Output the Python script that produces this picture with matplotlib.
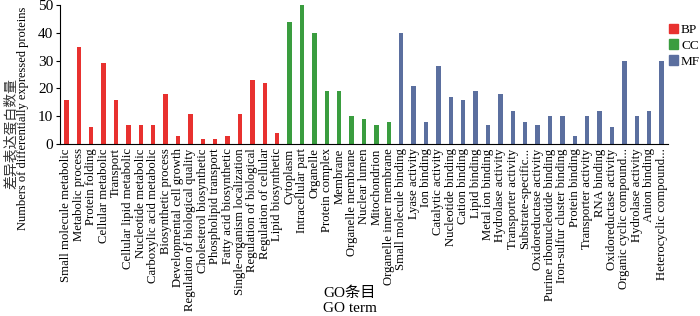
import matplotlib
matplotlib.use("Agg")
import matplotlib.pyplot as plt
from matplotlib.patches import Patch

bp_terms = [
    "Small molecule metabolic", "Metabolic process", "Protein folding",
    "Cellular metabolic", "Transport", "Cellular lipid metabolic",
    "Nucleotide metabolic", "Carboxylic acid metabolic", "Biosynthetic process",
    "Developmental cell growth", "Regulation of biological quality",
    "Cholesterol biosynthetic", "Phospholipid transport", "Fatty acid biosynthetic",
    "Single-organism localization", "Regulation of biological",
    "Regulation of cellular", "Lipid biosynthetic",
]
bp_counts = [16, 35, 6, 29, 16, 7, 7, 7, 18, 3, 11, 2, 2, 3, 11, 23, 22, 4]

cc_terms = [
    "Cytoplasm", "Intracellular part", "Organelle", "Protein complex",
    "Membrane", "Organelle membrane", "Nuclear lumen", "Mitochondrion",
    "Organelle inner membrane",
]
cc_counts = [44, 50, 40, 19, 19, 10, 9, 7, 8]

mf_terms = [
    "Small molecule binding", "Lyase activity", "Ion binding",
    "Catalytic activity", "Nucleotide binding", "Cation binding",
    "Lipid binding", "Metal ion binding", "Hydrolase activity",
    "Transporter activity", "Substrate-specific...", "Oxidoreductase activity",
    "Purine ribonucleotide binding", "Iron-sulfur cluster binding",
    "Protein binding", "Transporter activity", "RNA binding",
    "Oxidoreductase activity", "Organic cyclic compound...",
    "Hydrolase activity", "Anion binding", "Heterocyclic compound...",
]
mf_counts = [40, 21, 8, 28, 17, 16, 19, 7, 18, 12, 8, 7, 10, 10, 3, 10, 12,
             6, 30, 10, 12, 30]

groups = ["BP", "CC", "MF"]
colors = {"BP": "#e8312f", "CC": "#3a9d3f", "MF": "#5b6f9f"}

serif = "Liberation Serif"
cjk = ["Noto Sans CJK SC", "DejaVu Sans"]

fig = plt.figure(figsize=(7, 3.16), dpi=100)
ax = fig.add_axes([0.086, 0.544, 0.868, 0.44])

labels = bp_terms + cc_terms + mf_terms
values = bp_counts + cc_counts + mf_counts
cols = ([colors["BP"]] * len(bp_terms) + [colors["CC"]] * len(cc_terms)
        + [colors["MF"]] * len(mf_terms))
x = list(range(len(labels)))

ax.bar(x, values, width=0.34, color=cols)

ax.set_xlim(-0.5, len(labels) - 0.5)
ax.set_ylim(0, 50)
ax.set_yticks([0, 10, 20, 30, 40, 50])
ax.set_xticks(x)
ax.set_xticklabels(labels, rotation=90, fontsize=9.2, family=serif)
for t in ax.get_yticklabels():
    t.set_family(serif)
    t.set_fontsize(11)
ax.tick_params(axis="y", length=3, width=0.8, pad=2)
ax.tick_params(axis="x", length=0, pad=3)

ax.spines["top"].set_visible(False)
ax.spines["right"].set_visible(False)
ax.spines["left"].set_linewidth(0.8)
ax.spines["bottom"].set_linewidth(0.8)

handles = [Patch(color=colors[g], label=g) for g in groups]
fig.legend(handles=handles, loc="upper left", bbox_to_anchor=(0.955, 0.925),
           frameon=False, handlelength=0.75, handleheight=0.75,
           handletextpad=0.2, labelspacing=0.25, borderaxespad=0,
           borderpad=0, prop={"family": serif, "size": 9.5})

fig.text(0.033, 0.625, "Numbers of differentially expressed proteins",
         rotation=90, ha="center", va="center", family=serif, fontsize=9)
fig.text(0.015, 0.576, "差异表达蛋白数量", rotation=90, ha="center",
         va="center", family=cjk, fontsize=10, color="#333333")
fig.text(0.5, 0.072, "GO条目", ha="center", va="center",
         family=[serif, "Noto Sans CJK SC"], fontsize=11)
fig.text(0.5, 0.025, "GO term", ha="center", va="center",
         family=serif, fontsize=11)

fig.savefig("out.png", dpi=100)
